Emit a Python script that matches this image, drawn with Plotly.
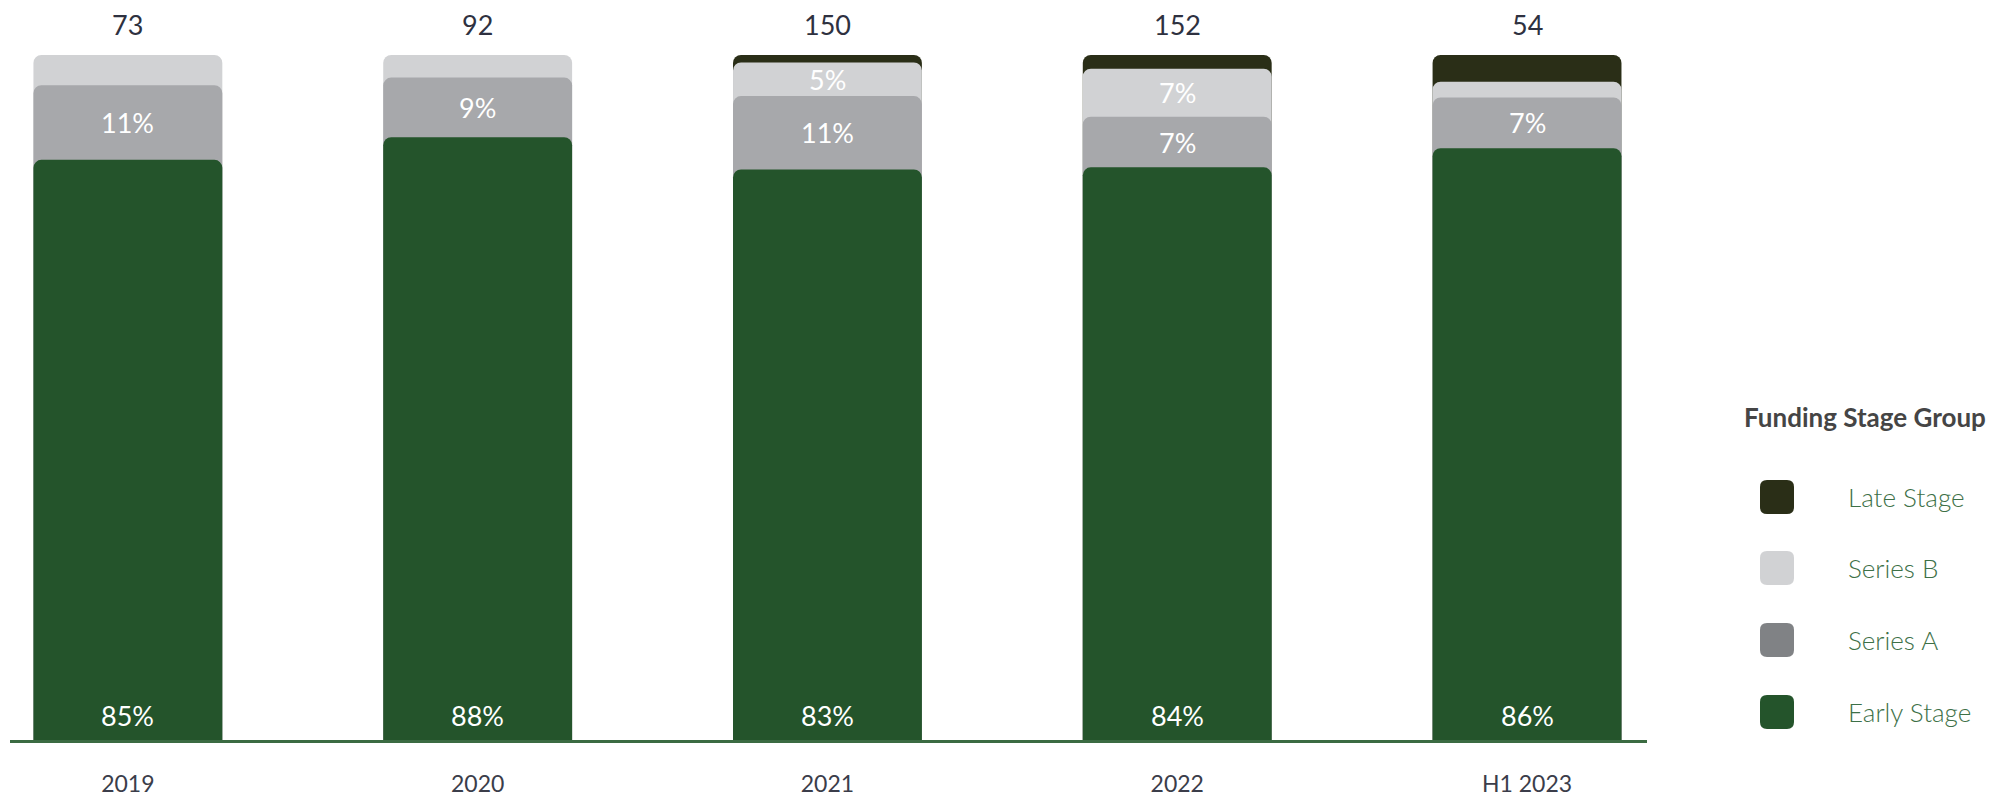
import plotly.graph_objects as go

# ---------------- data ----------------
categories = ["2019", "2020", "2021", "2022", "H1 2023"]
totals = [73, 92, 150, 152, 54]
early_stage = [84.7, 88.0, 83.3, 83.6, 86.4]
series_a = [10.9, 8.7, 10.7, 7.4, 7.4]
series_b = [4.4, 3.3, 4.9, 7.0, 2.3]
late_stage = [0.0, 0.0, 1.1, 2.0, 3.9]

series_names = ["Late Stage", "Series B", "Series A", "Early Stage"]
bar_colors = {"Late Stage": "#2a2e17", "Series B": "#d1d2d4",
              "Series A": "#a7a8ab", "Early Stage": "#24542b"}
legend_colors = {"Late Stage": "#2a2e17", "Series B": "#d1d2d4",
                 "Series A": "#808285", "Early Stage": "#24542b"}

FONT = "Lato, 'Open Sans', sans-serif"
W, H = 2013, 797
M = dict(l=10, r=366, t=55, b=57)
PW = W - M["l"] - M["r"]
PH = H - M["t"] - M["b"]
XRANGE = [-0.337, 4.343]
LABEL_MIN = 4.5

# stacked segments bottom->top
segments = [("Early Stage", early_stage), ("Series A", series_a),
            ("Series B", series_b), ("Late Stage", late_stage)]
cum_bottom = {}
cum_top = {}
running = [0.0] * len(categories)
for name, vals in segments:
    cum_bottom[name] = list(running)
    running = [r + v for r, v in zip(running, vals)]
    cum_top[name] = list(running)
values_by_name = dict(segments)

fig = go.Figure()
# each segment on its own overlaid x axis so every one keeps rounded top corners;
# tallest (top segment) drawn first so the lower segments cover it
axis_ids = ["x", "x2", "x3", "x4"]
for name, ax in zip(series_names, axis_ids):
    ys = [t if v > 0 else None for t, v in zip(cum_top[name], values_by_name[name])]
    fig.add_trace(go.Bar(
        x=categories, y=ys, name=name, xaxis=ax, yaxis="y",
        marker=dict(color=bar_colors[name], line=dict(width=0), cornerradius=8),
        customdata=values_by_name[name],
        hovertemplate=name + ": %{customdata:.0f}%<extra></extra>",
        showlegend=False,
    ))

annotations = []
# totals above bars
for i, t in enumerate(totals):
    annotations.append(dict(x=i, y=100, xref="x", yref="y", text=str(t),
                            showarrow=False, yanchor="middle", yshift=31,
                            font=dict(family=FONT, size=27, color="#2e3140")))
# percentage labels
for i, v in enumerate(early_stage):
    annotations.append(dict(x=i, y=0, xref="x", yref="y", text=f"{v:.0f}%",
                            showarrow=False, yanchor="middle", yshift=25,
                            font=dict(family=FONT, size=27, color="#ffffff")))
for name in ["Series A", "Series B"]:
    for i in range(len(categories)):
        v = values_by_name[name][i]
        if v >= LABEL_MIN and not (name == "Series B" and v < 4.8):
            mid = (cum_bottom[name][i] + cum_top[name][i]) / 2
            annotations.append(dict(x=i, y=mid, xref="x", yref="y", text=f"{v:.0f}%",
                                    showarrow=False, yanchor="middle",
                                    font=dict(family=FONT, size=27, color="#ffffff")))

# ---------------- legend (drawn) ----------------
def px_x(px):
    return (px - M["l"]) / PW

def px_y(py):
    return (H - M["b"] - py) / PH

def rounded_rect(x0, y0, x1, y1, r):
    X, Y = px_x, px_y
    return (f"M {X(x0 + r)},{Y(y0)} L {X(x1 - r)},{Y(y0)} "
            f"Q {X(x1)},{Y(y0)} {X(x1)},{Y(y0 + r)} L {X(x1)},{Y(y1 - r)} "
            f"Q {X(x1)},{Y(y1)} {X(x1 - r)},{Y(y1)} L {X(x0 + r)},{Y(y1)} "
            f"Q {X(x0)},{Y(y1)} {X(x0)},{Y(y1 - r)} L {X(x0)},{Y(y0 + r)} "
            f"Q {X(x0)},{Y(y0)} {X(x0 + r)},{Y(y0)} Z")

annotations.append(dict(x=px_x(1742), y=px_y(417), xref="paper", yref="paper",
                        text="<b>Funding Stage Group</b>", showarrow=False,
                        xanchor="left", yanchor="middle",
                        font=dict(family=FONT, size=26, color="#454545")))
shapes = []
legend_y = [497, 568, 640, 712]
for name, cy in zip(series_names, legend_y):
    shapes.append(dict(type="path", xref="paper", yref="paper",
                       path=rounded_rect(1760, cy - 17, 1794, cy + 17, 7),
                       fillcolor=legend_colors[name], line=dict(width=0)))
    annotations.append(dict(x=px_x(1846), y=px_y(cy), xref="paper", yref="paper",
                            text=name, showarrow=False, xanchor="left", yanchor="middle",
                            font=dict(family=FONT, size=26, color="#3d7047", weight=300)))

fig.update_layout(
    width=W, height=H,
    margin=M,
    barmode="overlay",
    bargap=0.46,
    paper_bgcolor="white", plot_bgcolor="white",
    showlegend=False,
    annotations=annotations,
    shapes=shapes,
    font=dict(family=FONT),
)
fig.update_layout(
    xaxis=dict(
        type="category", range=XRANGE, automargin=False,
        showline=True, linecolor="#3b6b42", linewidth=3,
        showgrid=False, zeroline=False,
        ticks="outside", ticklen=21, tickcolor="rgba(0,0,0,0)",
        tickfont=dict(family=FONT, size=23, color="#3b3d4a"),
    ),
    yaxis=dict(range=[0, 100], visible=False, showgrid=False, zeroline=False,
               automargin=False),
)
for ax in ["xaxis2", "xaxis3", "xaxis4"]:
    fig.update_layout({ax: dict(type="category", range=XRANGE, overlaying="x",
                                visible=False, automargin=False,
                                showgrid=False, zeroline=False)})

fig.write_html("out.html", config={"displayModeBar": False},
               post_script="document.body.style.margin='0';")
